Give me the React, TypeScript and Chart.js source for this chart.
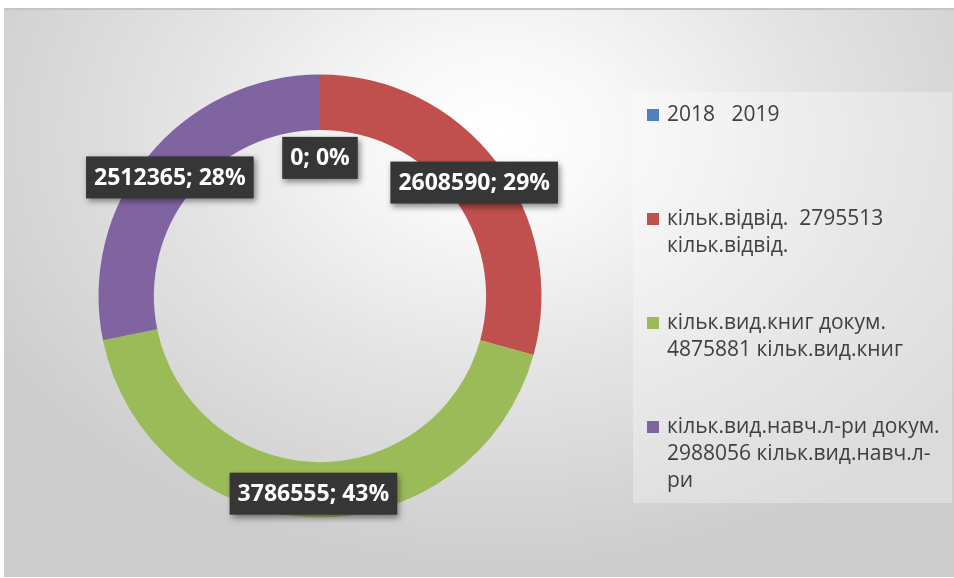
import React, { useEffect, useRef } from "react";
import { Chart, registerables } from "chart.js";

Chart.register(...registerables);

const categories: string[][] = [
  ["2018   2019"],
  ["кільк.відвід.  2795513", "кільк.відвід."],
  ["кільк.вид.книг докум.", "4875881 кільк.вид.книг"],
  ["кільк.вид.навч.л-ри докум.", "2988056 кільк.вид.навч.л-", "ри"],
];
const values: number[] = [0, 2608590, 3786555, 2512365];
const colors: string[] = ["#4f81bd", "#c0504d", "#9bbb59", "#8064a2"];

const W = 954;
const H = 578;

const labelPlugin = {
  id: "excelLabels",
  afterDraw(chart: any) {
    const ctx = chart.ctx as CanvasRenderingContext2D;
    const meta = chart.getDatasetMeta(0);
    const data = chart.data.datasets[0].data as number[];
    const total = data.reduce((a, b) => a + b, 0);

    // legend
    ctx.save();
    ctx.fillStyle = "rgba(255,255,255,0.3)";
    ctx.fillRect(633, 92, 319, 411);
    ctx.font = "21px 'Open Sans'";
    ctx.textBaseline = "alphabetic";
    ctx.textAlign = "left";
    const labels = chart.data.labels as string[][];
    labels.forEach((lines, i) => {
      const base = 121 + i * 104;
      ctx.fillStyle = colors[i];
      ctx.fillRect(647, base - 12, 12, 12);
      ctx.fillStyle = "#404040";
      lines.forEach((ln, j) => {
        ctx.fillText(ln, 667, base + j * 27);
      });
    });
    ctx.restore();

    // data labels
    ctx.save();
    ctx.font = "bold 23px 'Open Sans'";
    ctx.textAlign = "center";
    ctx.textBaseline = "middle";
    meta.data.forEach((arc: any, i: number) => {
      const p = arc.getProps(["x", "y", "startAngle", "endAngle", "innerRadius", "outerRadius"], true);
      const v = data[i];
      const mid = (p.startAngle + p.endAngle) / 2;
      const bh = 42;
      let r = (p.innerRadius + p.outerRadius) / 2;
      if (v === 0) r = p.innerRadius - 7 - bh / 2;
      const cx = p.x + Math.cos(mid) * r;
      const cy = p.y + Math.sin(mid) * r + (v === 0 ? 0 : 4);
      const pct = total ? Math.round((v / total) * 100) : 0;
      const txt = `${v}; ${pct}%`;
      const tw = ctx.measureText(txt).width;
      const bw = tw + 16;
      ctx.save();
      ctx.shadowColor = "rgba(0,0,0,0.45)";
      ctx.shadowBlur = 6;
      ctx.shadowOffsetX = 2;
      ctx.shadowOffsetY = 3;
      ctx.fillStyle = "#363636";
      ctx.fillRect(cx - bw / 2, cy - bh / 2, bw, bh);
      ctx.restore();
      ctx.fillStyle = "#ffffff";
      ctx.fillText(txt, cx, cy + 1);
    });
    ctx.restore();
  },
};

export default function App() {
  const ref = useRef<HTMLCanvasElement>(null);
  useEffect(() => {
    if (!ref.current) return;
    const chart = new Chart(ref.current, {
      type: "doughnut",
      data: {
        labels: categories as any,
        datasets: [
          {
            data: values,
            backgroundColor: colors,
            borderWidth: 0,
            hoverOffset: 0,
            offset: 0,
          } as any,
        ],
      },
      options: {
        responsive: false,
        animation: false,
        events: [],
        cutout: "75%",
        layout: { padding: { left: 98.5, right: 412.5, top: 74.5, bottom: 60.5 } },
        plugins: {
          legend: { display: false },
          tooltip: { enabled: false },
        },
      },
      plugins: [labelPlugin],
    });
    return () => chart.destroy();
  }, []);

  return (
    <div style={{ position: "absolute", left: 0, top: 0, width: W, height: H, background: "#ffffff", overflow: "hidden" }}>
      <div
        style={{
          position: "absolute",
          left: 4,
          top: 8,
          width: 950,
          height: 569,
          borderTop: "2px solid #c4c4c4",
          boxSizing: "border-box",
          background:
            "radial-gradient(ellipse 62% 78% at 52% 22%, #ffffff 0%, #f8f8f8 20%, #e3e3e3 55%, #cccccc 100%)",
        }}
      />
      <canvas ref={ref} width={W} height={H} style={{ position: "absolute", left: 0, top: 0, width: W, height: H }} />
    </div>
  );
}
